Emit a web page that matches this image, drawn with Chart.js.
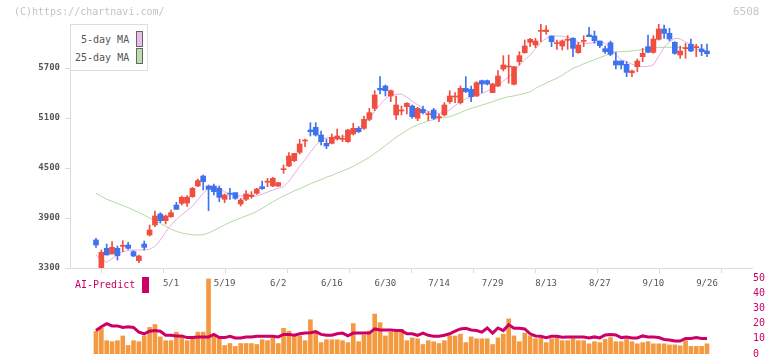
<!DOCTYPE html>
<html><head><meta charset="utf-8">
<script src="https://cdn.jsdelivr.net/npm/chart.js@4/dist/chart.umd.min.js"></script>
<style>
html,body{margin:0;padding:0;background:#fff;width:772px;height:361px;overflow:hidden;position:relative;font-family:'DejaVu Sans Mono',monospace;}
canvas{position:absolute;left:0;}
#c1{top:0;}
#c2{top:270px;}
.t{position:absolute;white-space:nowrap;line-height:12px;}
.box{position:absolute;width:5px;height:14px;border:1px solid #666;}
</style></head><body>
<canvas id="c1" width="772" height="300"></canvas>
<canvas id="c2" width="772" height="91"></canvas>
<div class="t" style="left:14px;top:6px;font-size:10px;color:#c4c4c4">(C)https://chartnavi.com/</div>
<div class="t" style="left:733px;top:6px;font-size:11px;color:#c8c8c8">6508</div>
<div style="position:absolute;left:70px;top:24px;width:76px;height:45px;border:1px solid #dedede;background:#fff;"></div>
<div class="t" id="lg1" style="left:81px;top:34px;font-size:10px;color:#555"></div>
<div class="box" id="bx1" style="left:136px;top:31px;"></div>
<div class="t" id="lg2" style="left:75px;top:52px;font-size:10px;color:#555"></div>
<div class="box" id="bx2" style="left:136px;top:48px;"></div>
<div class="t" id="aiLbl" style="left:75px;top:279px;font-size:10px;color:#cc0066"></div>
<div style="position:absolute;left:142px;top:277px;width:7px;height:16px;background:#cc0066;"></div>
<script>
// ---- data ----
const dateTickIdx = [14,24,34,44,54,64,74,84,94,104,114];
const dateTickLabels = ['5/1','5/19','6/2','6/16','6/30','7/14','7/29','8/13','8/27','9/10','9/26'];
const priceTicks = [3300,3900,4500,5100,5700];
const volTicks = [0,10,20,30,40,50];
const seriesNames = ['5-day MA','25-day MA','AI-Predict'];

const opens = [3636,3300,3536,3468,3536,3560,3576,3496,3388,3588,3696,3816,3948,3868,3916,4056,4076,4080,4156,4284,4404,4284,4284,4256,4124,4190,4204,4068,4124,4156,4196,
4276,4330,4284,4284,4480,4524,4588,4688,4824,4956,4988,4896,4796,4796,4848,4844,4816,4908,4976,4976,5084,5216,5456,5484,5364,5136,5184,5236,5244,5096,5204,5140,5196,5104,5136,5296,5352,5284,5456,5444,5364,5548,5548,5404,5484,5688,5712,5504,5776,5884,6008,5976,6140,6136,6084,5992,5964,6032,6056,5884,6020,6096,6084,6024,5932,6004,5784,5784,5744,5644,5716,5836,5956,5888,6044,6168,6116,6008,5856,5932,5984,5944,5928,5904];
const highs = [3656,3516,3588,3616,3564,3628,3608,3508,3456,3624,3816,3984,3964,3936,3996,4088,4164,4170,4268,4368,4416,4296,4308,4284,4188,4256,4204,4136,4228,4216,4256,
4344,4376,4388,4330,4536,4684,4676,4844,4848,5044,5044,4944,4848,4908,4968,4896,4964,5036,4996,5124,5216,5428,5596,5496,5436,5364,5244,5284,5256,5228,5244,5176,5216,5148,5284,5428,5404,5484,5596,5484,5536,5556,5556,5516,5668,5848,5856,5716,5896,6036,6056,6056,6224,6208,6084,6036,6036,6088,6064,6008,6088,6188,6144,6024,5964,6024,5888,5784,5776,5676,5808,5936,6096,6088,6224,6216,6176,6016,5964,5996,6048,5984,5984,5988];
const lows = [3548,3300,3456,3468,3396,3496,3524,3436,3364,3516,3684,3796,3844,3828,3908,4004,4056,4040,4148,4276,4236,3988,4176,4096,4084,4124,4124,4044,4108,4136,4184,
4244,4276,4276,4276,4436,4516,4576,4668,4756,4884,4884,4776,4732,4788,4836,4816,4808,4896,4924,4964,5068,5188,5388,5364,5296,5084,5136,5148,5096,5068,5148,5068,5084,5056,5124,5276,5284,5268,5404,5296,5356,5404,5496,5404,5476,5664,5516,5496,5736,5876,5956,5944,6016,6104,5956,5924,5916,5924,5836,5876,5956,6076,5996,5944,5876,5848,5688,5688,5596,5596,5656,5776,5888,5876,6036,6056,6024,5864,5816,5816,5896,5836,5848,5836];
const closes = [3576,3488,3456,3548,3448,3564,3536,3444,3444,3548,3756,3924,3868,3924,3964,4004,4148,4150,4256,4348,4336,4244,4216,4148,4176,4186,4136,4116,4188,4176,4248,
4252,4336,4376,4324,4484,4644,4676,4788,4828,4936,4896,4816,4764,4868,4884,4848,4956,4976,4936,5084,5164,5376,5436,5428,5428,5256,5188,5276,5116,5216,5164,5144,5096,5108,5256,5364,5356,5456,5416,5356,5524,5508,5508,5508,5604,5736,5716,5716,5848,5964,6044,6024,6144,6156,6016,5996,6024,6036,5936,5976,6024,6076,6028,5968,5896,5864,5736,5736,5648,5664,5784,5876,5888,6048,6168,6116,6048,5876,5904,5936,5904,5948,5896,5872];
const ma5 = [3456,3400,3370,3410,3460,3496,3510,3516,3516,3516,3525,3560,3636,3730,3820,3880,3940,3990,4040,4120,4196,4260,4285,4260,4215,4185,4170,4165,4164,4164,4164,
4185,4210,4236,4255,4276,4340,4430,4520,4600,4690,4770,4840,4862,4868,4868,4870,4895,4916,4980,5040,5090,5180,5260,5330,5376,5385,5388,5350,5300,5260,5215,5176,5165,5156,5170,5196,5250,5295,5330,5355,5375,5396,5425,5456,5496,5545,5590,5660,5736,5800,5856,5930,6010,6056,6084,6085,6080,6070,6050,6010,5996,5996,6005,6016,5996,5940,5860,5800,5776,5745,5725,5716,5720,5736,5840,5950,6016,6056,6050,6010,5990,5956,5925,5900];
const ma25 = [4196,4160,4125,4100,4075,4050,4025,3995,3965,3935,3900,3865,3836,3800,3765,3740,3720,3708,3698,3696,3700,3720,3750,3785,3815,3850,3875,3900,3925,3950,3980,
4015,4055,4095,4130,4165,4195,4225,4250,4280,4310,4336,4360,4390,4412,4440,4465,4490,4520,4555,4590,4630,4675,4720,4770,4820,4870,4910,4950,4990,5020,5040,5065,5080,5095,5105,5116,5140,5165,5195,5215,5235,5255,5275,5295,5320,5340,5356,5365,5380,5395,5415,5455,5490,5520,5550,5576,5615,5655,5696,5720,5750,5776,5800,5825,5848,5880,5896,5896,5900,5905,5912,5920,5930,5945,5948,5948,5948,5948,5946,5944,5935,5925,5915,5904];
const volume = [15,16.9,8.75,8.1,8.75,11.9,5.6,8.75,8.1,11.9,17.5,19.4,11.25,8.75,8.75,14.4,11.9,8.75,10.6,14.4,14.4,49.4,11.9,10.6,5.6,6.9,5,6.9,6.9,6.9,6.25,
9.4,8.75,10.6,6.9,16.9,15,11.9,11.9,8.75,22.5,14.4,7.5,9.4,9.4,9.4,8.75,7.5,20,8.1,12.5,15,26.25,20.6,11.9,14.4,14.4,16.25,8.75,10.6,10,6.25,8.75,8.1,6.9,8.75,11.9,11.9,13.1,7.5,11.25,10,10,10,6.25,10.6,13.1,23.1,11.9,8.1,13.75,11.9,10,10.6,7.5,10,10.6,8.75,8.75,10.2,8.75,8.75,6.7,8.1,7.5,9.6,10.8,8.1,8.1,9.6,8.1,6.7,7.5,8.1,6.7,6.7,6.7,6,6,5.4,8.75,5,5,5,6.7];
const aiPredict = [15.4,17.9,20,18.5,18.5,17.5,17.9,17.5,14.4,13.3,15,15.4,15,12.3,12.3,11.9,11.9,10.8,10.8,11.25,11.25,11.25,12.9,10.8,10.8,11.7,10.6,10.6,11.25,11.25,11.7,
11.7,11.7,11.7,11.25,12.9,12.9,12.3,13.3,13.75,14,14.7,12.9,12.3,12.3,13.3,13.75,11.9,13.75,13.75,13.75,13.75,16.5,15.8,15.8,15.8,15.4,15.4,13.3,13.3,12.3,13.75,12.3,11.7,11.7,12.3,13.3,15,16.5,16.9,15.8,15.4,14.4,17.1,13.75,17.1,15.4,19.2,16.9,16.9,16.5,13.3,11.9,11.7,10.8,11.7,11.7,11,11.25,11.25,11.25,11.25,10.6,11.25,10.6,12.5,12.9,12.5,10.8,11.25,10.6,10.6,11.9,11.25,11.25,10.8,9.6,9.2,8.5,8.5,10.2,10.2,10.8,10.2,10.2];

// ---- chart ----
const X_MIN = -4.85, X_MAX = 122.4;
const UP = '#f04e3e', DOWN = '#3f72ee';
const candleColors = opens.map((o,i)=> closes[i] >= o ? UP : DOWN);
const MONO = "'DejaVu Sans Mono', monospace";
document.getElementById('lg1').textContent = seriesNames[0];
document.getElementById('lg2').textContent = seriesNames[1];
document.getElementById('aiLbl').textContent = seriesNames[2];
document.getElementById('bx1').style.background = '#eebbee';
document.getElementById('bx2').style.background = '#bbddaa';

new Chart(document.getElementById('c1'), {
  type: 'bar',
  data: { datasets: [
    { type:'line', label: seriesNames[0], data: ma5.map((v,i)=>({x:i,y:v})), borderColor:'#e6aee6', borderWidth:1, pointRadius:0, tension:0, order:3 },
    { type:'line', label: seriesNames[1], data: ma25.map((v,i)=>({x:i,y:v})), borderColor:'#b3d9a3', borderWidth:1, pointRadius:0, tension:0, order:3 },
    { label:'wick', data: highs.map((h,i)=>({x:i,y:[lows[i],h]})), backgroundColor: candleColors, borderWidth:0, barThickness:1, grouped:false, order:2 },
    { label:'body', data: opens.map((o,i)=>({x:i,y:[o,closes[i]]})), backgroundColor: candleColors, borderWidth:0, barThickness:5, minBarLength:1, grouped:false, order:1 }
  ]},
  options: {
    responsive:false, animation:false, devicePixelRatio:1,
    layout:{ padding:{ left:0, right:20, top:24, bottom:7 } },
    plugins:{ legend:{display:false}, tooltip:{enabled:false} },
    scales:{
      x:{ type:'linear', min:X_MIN, max:X_MAX, offset:false, position:'bottom', weight:1,
          grid:{display:false, drawTicks:false, offset:false}, border:{display:false},
          afterBuildTicks: s => { s.ticks = dateTickIdx.map(v=>({value:v})); },
          ticks:{ autoSkip:false, maxRotation:0, padding:5, color:'#555', font:{family:MONO, size:9},
                  callback:(v,idx)=> dateTickLabels[idx] },
          afterFit: s => { s.height = 20; } },
      xg:{ type:'linear', min:0, max:11, position:'bottom', weight:0, offset:false,
           ticks:{display:false, stepSize:1},
           grid:{drawOnChartArea:false, drawTicks:true, tickLength:5, color:'#dcdcdc'},
           border:{display:true, color:'#dcdcdc'},
           afterFit: s => { s.height = 5; } },
      y:{ type:'linear', min:3300, max:6228, position:'left',
          afterBuildTicks: s => { s.ticks = priceTicks.map(v=>({value:v})); },
          ticks:{ padding:5, color:'#555', font:{family:MONO, size:9, weight:'bold'}, callback: v => String(v) },
          grid:{drawOnChartArea:false, tickLength:5, color:'#dcdcdc'}, border:{display:true, color:'#dcdcdc'},
          afterFit: s => { s.width = 70; } }
    }
  }
});

new Chart(document.getElementById('c2'), {
  type: 'bar',
  data: { datasets: [
    { type:'line', label: seriesNames[2], data: aiPredict.map((v,i)=>({x:i,y:v})), borderColor:'#cc0066', borderWidth:3, pointRadius:0, tension:0, order:0 },
    { label:'volume', data: volume.map((v,i)=>({x:i,y:v})), backgroundColor:'#f39a40', borderWidth:0, barThickness:4, grouped:false, order:1 }
  ]},
  options: {
    responsive:false, animation:false, devicePixelRatio:1,
    layout:{ padding:{ left:70, right:0, top:8, bottom:3 } },
    plugins:{ legend:{display:false}, tooltip:{enabled:false} },
    scales:{
      x:{ type:'linear', min:X_MIN, max:X_MAX, offset:false, display:false },
      y:{ type:'linear', position:'right', min:0, max:50,
          afterBuildTicks: s => { s.ticks = volTicks.map(v=>({value:v})); },
          ticks:{ padding:1, color:'#cc0066', font:{family:MONO, size:10} },
          grid:{display:false, drawTicks:false}, border:{display:false},
          afterFit: s => { s.width = 20; } }
    }
  }
});
</script>
</body></html>
